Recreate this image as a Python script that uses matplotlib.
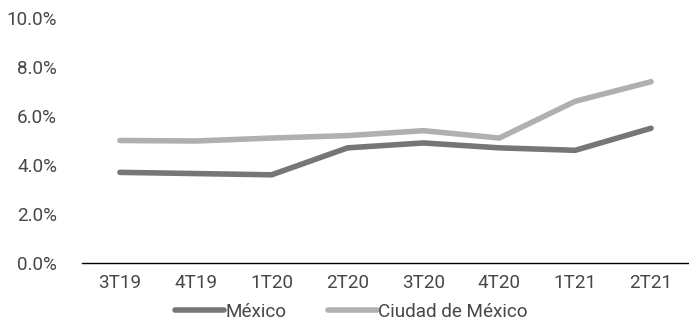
import matplotlib
matplotlib.use("Agg")
import matplotlib.pyplot as plt
from matplotlib.ticker import FuncFormatter

plt.rcParams['font.family'] = ['Roboto', 'DejaVu Sans']

quarters = ["3T19", "4T19", "1T20", "2T20", "3T20", "4T20", "1T21", "2T21"]
mexico = [3.7, 3.65, 3.6, 4.7, 4.9, 4.7, 4.6, 5.5]
cdmx = [5.0, 4.98, 5.1, 5.2, 5.4, 5.1, 6.6, 7.4]
series_names = ["México", "Ciudad de México"]

text_color = "#474747"
fs = 13.6

fig = plt.figure(figsize=(6.89, 3.31), dpi=100)
ax = fig.add_axes([82 / 689, 1 - 263 / 331, 607 / 689, 245 / 331])

x = range(len(quarters))
ax.plot(x, mexico, color="#767676", lw=4.0, solid_capstyle="round", label=series_names[0])
ax.plot(x, cdmx, color="#b0b0b0", lw=4.0, solid_capstyle="round", label=series_names[1])

ax.set_xlim(-0.5, len(quarters) - 0.5)
ax.set_ylim(0, 10)
ax.set_yticks([0, 2, 4, 6, 8, 10])
ax.yaxis.set_major_formatter(FuncFormatter(lambda v, p: f"{v:.1f}%"))
ax.set_xticks(list(x))
ax.set_xticklabels(quarters)

for s in ["top", "right", "left"]:
    ax.spines[s].set_visible(False)
ax.spines["bottom"].set_color("#000000")
ax.spines["bottom"].set_linewidth(1.0)
ax.tick_params(axis="both", length=0, labelsize=fs, colors=text_color)
ax.tick_params(axis="y", pad=18)
ax.tick_params(axis="x", pad=8)

leg = fig.legend(loc="lower center", bbox_to_anchor=(0.51, -0.02), ncol=2, frameon=False,
                 fontsize=fs, handlelength=2.6, handletextpad=0.05, columnspacing=2.2)
for t in leg.get_texts():
    t.set_color(text_color)

fig.savefig("out.png", dpi=100)
